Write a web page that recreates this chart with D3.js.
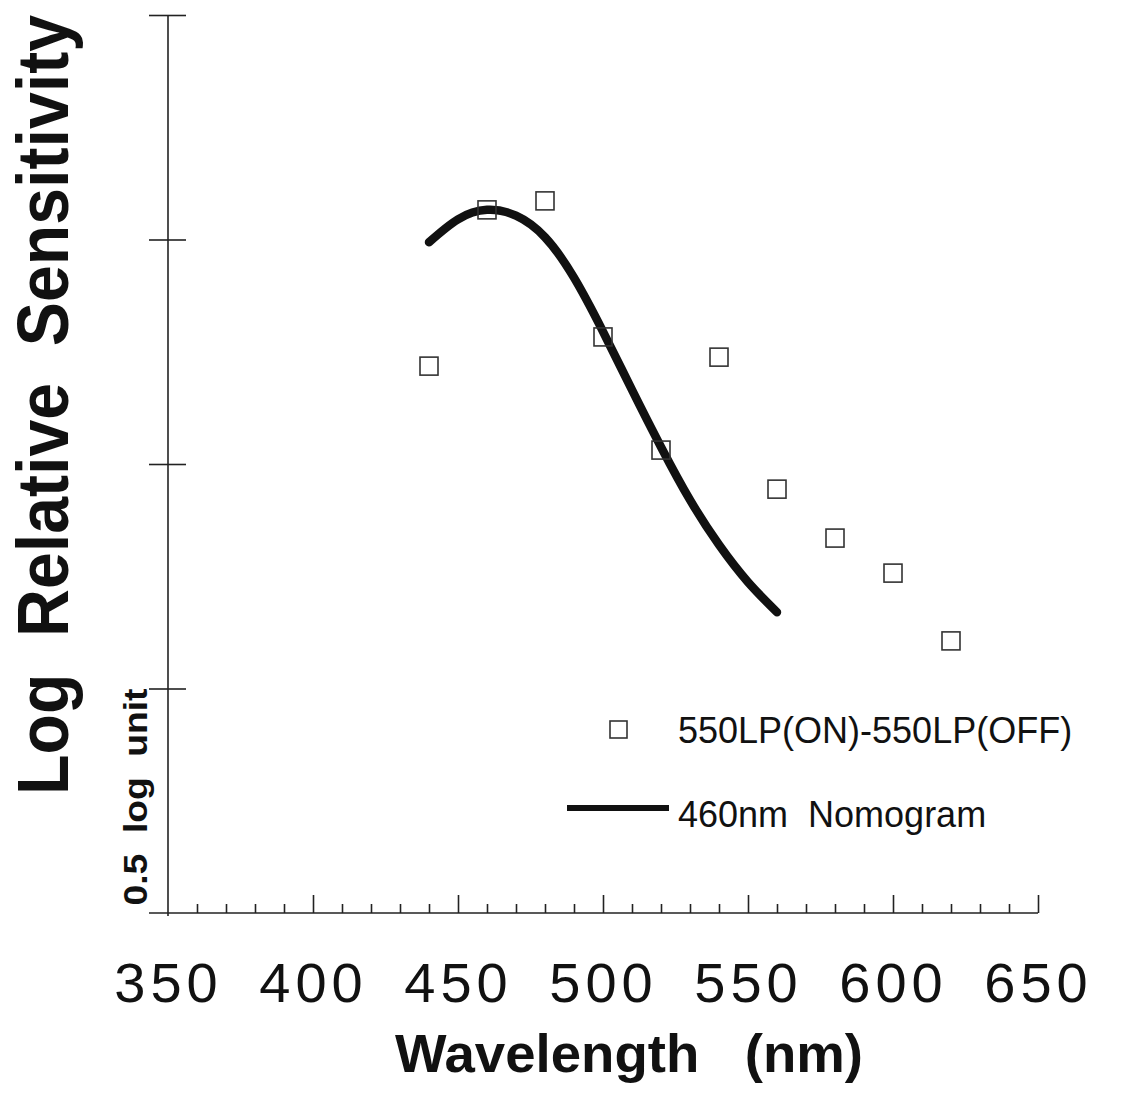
<!DOCTYPE html>
<html>
<head>
<meta charset="utf-8">
<script src="https://cdn.jsdelivr.net/npm/d3@7"></script>
<style>
  body { margin: 0; background: #fff; }
  text { font-family: "Liberation Sans", Arial, sans-serif; fill: #111; }
</style>
</head>
<body>
<div id="vizContainer"></div>
<script>
// data
let wavelengths = [440, 460, 480, 500, 520, 540, 560, 580, 600, 620];
let sensitivity = [1.218, 1.566, 1.586, 1.283, 1.031, 1.238, 0.944, 0.835, 0.757, 0.606];

let nomoWavelengths = [440, 450, 460, 470, 480, 490, 500, 510, 520, 530, 540, 550, 560];
let nomoValues = [1.494, 1.545, 1.566, 1.553, 1.505, 1.415, 1.295, 1.165, 1.038, 0.920, 0.820, 0.737, 0.670];

let xMajorTicks = [350, 400, 450, 500, 550, 600, 650];
let yTicks = [0.5, 1, 1.5, 2];

let w = 1124;
let h = 1093;

let viz = d3.select("#vizContainer").append("svg")
    .attr("width", w)
    .attr("height", h)
    .style("background-color", "white")
;

let x = d3.scaleLinear().domain([350, 650]).range([168, 1038]);
let y = d3.scaleLinear().domain([0, 2]).range([913, 15]);

let axisColor = "#222";

// x axis: minor ticks every 10nm, major every 50nm, all pointing up
let minorTicks = d3.range(360, 650, 10).filter(d => d % 50 != 0);
let xMinor = viz.append("g")
    .attr("transform", "translate(0," + y(0) + ")")
    .call(d3.axisTop(x).tickValues(minorTicks).tickSize(9).tickFormat(""));
let xMajor = viz.append("g")
    .attr("transform", "translate(0," + y(0) + ")")
    .call(d3.axisTop(x).tickValues(xMajorTicks.slice(1)).tickSize(18).tickFormat(""));
[xMinor, xMajor].forEach(g => {
  g.select(".domain").remove();
  g.selectAll("line").attr("stroke", axisColor).attr("stroke-width", 1.6);
});
viz.append("line")
    .attr("x1", 149).attr("x2", x(650))
    .attr("y1", y(0)).attr("y2", y(0))
    .attr("stroke", axisColor).attr("stroke-width", 1.6);

// x tick labels
let xLabels = viz.append("g")
    .attr("transform", "translate(0," + y(0) + ")")
    .call(d3.axisBottom(x).tickValues(xMajorTicks).tickSize(0).tickPadding(0));
xLabels.select(".domain").remove();
xLabels.selectAll("text")
    .attr("y", 89)
    .attr("dy", null)
    .style("font-size", "56px")
    .style("letter-spacing", "5px")
    .style("font-family", "'Liberation Sans', Arial, sans-serif")
    .attr("fill", "#111");

// y axis, ticks cross the line on both sides
let yLeft = viz.append("g")
    .attr("transform", "translate(" + x(350) + ",0)")
    .call(d3.axisLeft(y).tickValues(yTicks).tickSize(19).tickFormat(""));
let yRight = viz.append("g")
    .attr("transform", "translate(" + x(350) + ",0)")
    .call(d3.axisRight(y).tickValues(yTicks).tickSize(18).tickFormat(""));
yRight.select(".domain").remove();
yLeft.select(".domain").attr("d", "M0," + y(2) + "V" + (y(0) + 3));
[yLeft, yRight].forEach(g => {
  g.selectAll("path, line").attr("stroke", axisColor).attr("stroke-width", 1.6);
});

// nomogram curve
let line = d3.line()
    .x((d, i) => x(nomoWavelengths[i]))
    .y(d => y(d))
    .curve(d3.curveNatural);
viz.append("path")
    .datum(nomoValues)
    .attr("d", line)
    .attr("fill", "none")
    .attr("stroke", "#111")
    .attr("stroke-width", 8.5)
    .attr("stroke-linecap", "round");

// data squares
let sq = 18;
viz.selectAll(".pt").data(sensitivity).enter()
  .append("rect")
    .attr("class", "pt")
    .attr("x", (d, i) => x(wavelengths[i]) - sq / 2)
    .attr("y", d => y(d) - sq / 2)
    .attr("width", sq)
    .attr("height", sq)
    .attr("fill", "none")
    .attr("stroke", "#333")
    .attr("stroke-width", 1.6);

// legend
viz.append("rect")
    .attr("x", 610).attr("y", 721)
    .attr("width", 17).attr("height", 17)
    .attr("fill", "none").attr("stroke", "#333").attr("stroke-width", 1.6);
viz.append("text")
    .attr("x", 678).attr("y", 743)
    .style("font-size", "36px")
    .text("550LP(ON)-550LP(OFF)");
viz.append("line")
    .attr("x1", 567).attr("x2", 669)
    .attr("y1", 808).attr("y2", 808)
    .attr("stroke", "#111").attr("stroke-width", 6);
viz.append("text")
    .attr("x", 678).attr("y", 827)
    .style("font-size", "36px")
    .style("white-space", "pre")
    .text("460nm  Nomogram");

// axis titles
viz.append("text")
    .attr("transform", "translate(68,405) rotate(-90)")
    .attr("text-anchor", "middle")
    .attr("textLength", 780)
    .attr("lengthAdjust", "spacingAndGlyphs")
    .style("font-size", "72px")
    .style("font-weight", "bold")
    .style("white-space", "pre")
    .text("Log  Relative  Sensitivity");

viz.append("text")
    .attr("transform", "translate(147,797) rotate(-90)")
    .attr("text-anchor", "middle")
    .attr("textLength", 217)
    .attr("lengthAdjust", "spacingAndGlyphs")
    .style("font-size", "33px")
    .style("font-weight", "bold")
    .style("white-space", "pre")
    .text("0.5  log  unit");

viz.append("text")
    .attr("x", 629).attr("y", 1072)
    .attr("text-anchor", "middle")
    .attr("textLength", 468)
    .attr("lengthAdjust", "spacingAndGlyphs")
    .style("font-size", "54px")
    .style("font-weight", "bold")
    .style("white-space", "pre")
    .text("Wavelength   (nm)");
</script>
</body>
</html>
